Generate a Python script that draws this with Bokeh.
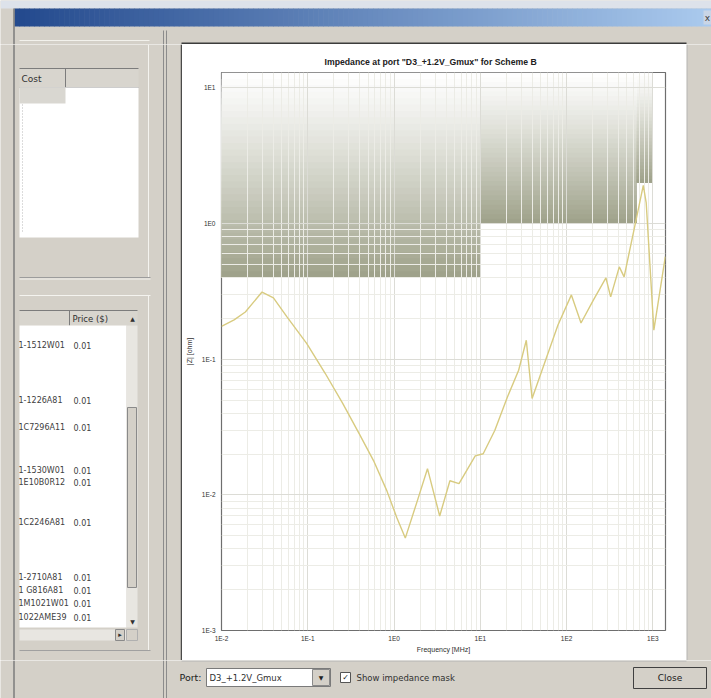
import numpy as np
from bokeh.plotting import figure
from bokeh.models import Range1d, FixedTicker, CustomJSTickFormatter, ColumnDataSource
from bokeh.layouts import row, column
from bokeh.core.properties import value
from bokeh.embed import file_html
from bokeh.resources import INLINE

# ---------------- impedance data ----------------
FREQ_MHZ = [0.01, 0.014, 0.0189, 0.0295, 0.040, 0.0574, 0.097, 0.159, 0.254, 0.394,
            0.578, 0.826, 1.08, 1.35, 1.86, 2.44, 3.38, 4.44, 5.66, 8.73,
            10.8, 14.7, 20.5, 27.8, 34.1, 39.8, 57.0, 79.4, 113.6, 146.8,
            204.8, 285.5, 324.0, 408.0, 464.0, 615.0, 774.0, 836.0, 1026.0, 1393.0]
Z_OHM = [0.175, 0.195, 0.223, 0.313, 0.283, 0.205, 0.131, 0.0788, 0.0472, 0.0283,
         0.0179, 0.0107, 0.00676, 0.0048, 0.00903, 0.0156, 0.00699, 0.0127, 0.0121, 0.0194,
         0.0201, 0.0298, 0.0523, 0.083, 0.138, 0.0514, 0.0983, 0.179, 0.298, 0.185,
         0.274, 0.398, 0.288, 0.48, 0.405, 0.95, 1.91, 1.43, 0.164, 0.57]

# impedance mask segments (target impedance per frequency band)
MASK_F_LO = [0.01, 10.0, 650.0]
MASK_F_HI = [10.0, 650.0, 1000.0]
MASK_Z = [0.4, 1.0, 2.0]

X_TICKS = [1e-2, 1e-1, 1e0, 1e1, 1e2, 1e3]
Y_TICKS = [1e-3, 1e-2, 1e-1, 1e0, 1e1]
X_START, X_END = 0.01, 1.4e3
Y_START, Y_END = 1e-3, 13.0

TITLE = 'Impedance at port "D3_+1.2V_Gmux" for Scheme B'
PORT_NAME = "D3_+1.2V_Gmux"
TABLE_PARTS = ["1-1512W01", "1-1226A81", "1C7296A11", "1-1530W01", "1E10B0R12",
               "1C2246A81", "1-2710A81", "1 G816A81", "1M1021W01", "1022AME39"]
TABLE_PRICE = ["0.01"] * len(TABLE_PARTS)
TABLE_ROW_Y = [345, 400, 427, 470, 482, 522, 577, 590, 603, 617]

GRAY = "#d4d0c8"
UI_FONT = value("DejaVu Sans")
CHART_FONT = "Liberation Sans"


def panel(x0, x1, y0, y1, fill=GRAY):
    """A pixel-addressed drawing surface (y grows downward)."""
    f = figure(width=x1 - x0, height=y1 - y0,
               x_range=Range1d(x0, x1), y_range=Range1d(y1, y0),
               output_backend="svg", toolbar_location=None, min_border=0,
               x_axis_location=None, y_axis_location=None,
               background_fill_color=fill, border_fill_color=fill,
               outline_line_color=None, frame_align=False)
    f.grid.visible = False
    return f


def box(f, x0, x1, y0, y1, fill, line=None, lw=1):
    f.quad(left=[x0], right=[x1], top=[y0], bottom=[y1], fill_color=fill,
           line_color=line, line_width=lw)


def hline(f, x0, x1, y, color, lw=1):
    f.segment(x0=[x0], x1=[x1], y0=[y], y1=[y], line_color=color, line_width=lw)


def vline(f, x, y0, y1, color, lw=1, dash="solid"):
    f.segment(x0=[x], x1=[x], y0=[y0], y1=[y1], line_color=color, line_width=lw,
              line_dash=dash)


def label(f, x, y, s, size="9px", color="#202020", align="left", bold=False):
    f.text(x=[x], y=[y], text=[s], text_font=UI_FONT, text_font_size=size,
           text_color=color, text_align=align, text_baseline="middle",
           text_font_style="bold" if bold else "normal")


def splitters(f, y0, y1, y0_inner=None):
    vline(f, 13.5, y0, y1, "#7c7c7c", 1.5)
    yi = y0 if y0_inner is None else y0_inner
    vline(f, 163, yi, y1, "#8c8c8c", 1)
    vline(f, 166, yi, y1, "#8c8c8c", 1)


# ---------------- window top: caption bar ----------------
top = panel(0, 711, 0, 44)
box(top, 0, 711, 0, 8, "#dde2ea")
n_bar = 140
bx = np.linspace(14, 711, n_bar + 1)
c0 = np.array([0x24, 0x4a, 0x8e])
c1 = np.array([0xaa, 0xca, 0xee])
bar_cols = []
for i in range(n_bar):
    t = i / (n_bar - 1)
    c = (c0 * (1 - t) + c1 * t).astype(int)
    bar_cols.append("#%02x%02x%02x" % tuple(c))
top.quad(left=bx[:-1], right=bx[1:] + 0.6, top=[8] * n_bar, bottom=[26] * n_bar,
         fill_color=bar_cols, line_color=None)
box(top, 703, 711, 10, 24, "#c9d5e6")
label(top, 707, 17, "x", size="9px", color="#404040", align="center")
splitters(top, 8, 44, 30)
hline(top, 19, 149, 40, "#f2f1ec")
hline(top, 181, 686, 43, "#3c3c3c", 2)

# ---------------- left side: part tables ----------------
left = panel(0, 182, 44, 660)
splitters(left, 44, 660)
vline(left, 148, 44, 277, "#f4f3ef")
# upper table
box(left, 19, 138, 68, 87, "#d8d5ce")
hline(left, 19, 138, 68, "#7c7c7c")
hline(left, 19, 138, 87, "#9a9a9a")
vline(left, 65, 68, 87, "#7c7c7c")
label(left, 21, 78, "Cost", size="9px", color="#303030")
box(left, 19, 138, 87, 237, "white")
box(left, 19, 65, 87, 103, "#d9d7d1")
vline(left, 22, 104, 232, "#b8b8b8", 1, "1 2")
hline(left, 19, 150, 277, "#9c9c9c")
hline(left, 19, 150, 278.5, "#f4f3ef")
# lower table
hline(left, 19, 150, 295, "#f4f3ef")
vline(left, 148, 295, 650, "#f4f3ef")
box(left, 19, 137, 310, 325, "#d8d5ce")
hline(left, 19, 137, 310, "#7c7c7c")
vline(left, 69, 310, 325, "#7c7c7c")
label(left, 72, 318, "Price ($)", size="8.5px", color="#303030")
label(left, 132, 318, "▲", size="6px", color="#303030", align="center")
box(left, 19, 126, 325, 627, "white")
box(left, 126, 137, 325, 627, "#e8e6e1")
box(left, 127, 136, 407, 587, GRAY, "#8a8a8a")
label(left, 132, 621, "▼", size="6px", color="#303030", align="center")
box(left, 19, 126, 629, 640, "#e8e6e1")
box(left, 115, 124, 629, 640, GRAY, "#8a8a8a")
label(left, 119.5, 634.5, "▸", size="7px", color="#303030", align="center")
box(left, 126, 137, 629, 640, GRAY, "#b0b0b0")
hline(left, 19, 150, 650, "#a0a0a0")
left.text(x=[18] * len(TABLE_PARTS), y=TABLE_ROW_Y, text=TABLE_PARTS,
          text_font=UI_FONT, text_font_size="8px", text_color="#404040",
          text_baseline="middle")
left.text(x=[73] * len(TABLE_PRICE), y=TABLE_ROW_Y, text=TABLE_PRICE,
          text_font=UI_FONT, text_font_size="8px", text_color="#404040",
          text_baseline="middle")
vline(left, 181, 44, 660, "#4a4a4a", 1.5)

# ---------------- impedance chart ----------------
p = figure(width=504, height=616, x_axis_type="log", y_axis_type="log",
           x_range=Range1d(X_START, X_END), y_range=Range1d(Y_START, Y_END),
           output_backend="svg", toolbar_location=None,
           min_border_left=38, min_border_right=21, min_border_top=28,
           min_border_bottom=30, background_fill_color="white",
           border_fill_color="white", outline_line_color="#6e6e6e",
           outline_line_width=1.2, frame_align=False)
p.title.text = TITLE
p.title.text_font = CHART_FONT
p.title.text_font_size = "8.7px"
p.title.text_font_style = "bold"
p.title.text_color = "#202020"
p.title.align = "left"
p.title.offset = 103
p.title.standoff = 12

x_minor = [k * 10.0 ** d for d in range(-2, 3) for k in range(2, 10)]
y_minor = [k * 10.0 ** d for d in range(-3, 0) for k in range(2, 10)]
p.xaxis.ticker = FixedTicker(ticks=X_TICKS, minor_ticks=x_minor)
p.yaxis.ticker = FixedTicker(ticks=Y_TICKS, minor_ticks=y_minor)
fmt = CustomJSTickFormatter(code='return "1E" + Math.round(Math.log10(tick));')
p.xaxis.formatter = fmt
p.yaxis.formatter = fmt
for ax in (p.xaxis, p.yaxis):
    ax.axis_line_color = None
    ax.major_tick_line_color = None
    ax.minor_tick_line_color = None
    ax.major_tick_out = 0
    ax.major_tick_in = 0
    ax.minor_tick_out = 0
    ax.minor_tick_in = 0
    ax.major_label_text_font = CHART_FONT
    ax.major_label_text_font_size = "6.5px"
    ax.major_label_text_color = "#303030"
    ax.axis_label_text_font = CHART_FONT
    ax.axis_label_text_font_size = "7px"
    ax.axis_label_text_font_style = "normal"
    ax.axis_label_text_color = "#303030"
p.xaxis.axis_label = "Frequency [MHz]"
p.yaxis.axis_label = "|Z| [ohm]"
p.xaxis.major_label_standoff = 4
p.xaxis.axis_label_standoff = 1
p.yaxis.major_label_standoff = 6
p.yaxis.axis_label_standoff = 6

for g in (p.xgrid, p.ygrid):
    g.grid_line_color = "#dcdcd6"
    g.minor_grid_line_color = "#ecece6"
    g.grid_line_width = 1
    g.minor_grid_line_width = 1

# impedance mask: shaded from its limit up to the top of the chart
n_band = 32
mask_dark = np.array([0x9e, 0xa1, 0x89])
white = np.array([0xff, 0xff, 0xff])
ml, mr, mb, mt, mc = [], [], [], [], []
for f_lo, f_hi, z in zip(MASK_F_LO, MASK_F_HI, MASK_Z):
    lz, ltop = np.log10(z), np.log10(Y_END)
    for k in range(n_band):
        s = 1 - k / n_band
        d = min(1.0, 1 - (s - 0.5 / n_band))
        d = d ** 1.15
        c = (white * (1 - d) + mask_dark * d).astype(int)
        ml.append(f_lo)
        mr.append(f_hi)
        mb.append(z)
        mt.append(10 ** (lz + s * (ltop - lz)))
        mc.append("#%02x%02x%02x" % tuple(c))
mask_src = ColumnDataSource(dict(left=ml, right=mr, bottom=mb, top=mt, color=mc))
mask_r = p.quad(left="left", right="right", bottom="bottom", top="top",
                fill_color="color", line_color=None, source=mask_src)
mask_r.level = "image"

p.line(FREQ_MHZ, Z_OHM, line_color="#d8cb80", line_width=1.4)

# ---------------- right strip ----------------
right = panel(686, 711, 44, 660)
vline(right, 686.5, 44, 660, "#b4b4b4")

# ---------------- bottom controls ----------------
bottom = panel(0, 711, 660, 698)
splitters(bottom, 660, 698)
hline(bottom, 181, 686, 660.5, "#b4b4b4")
label(bottom, 179, 677, "Port:", size="9.5px")
box(bottom, 206, 330, 668, 686, "white", "#7a7a7a")
label(bottom, 209, 677, PORT_NAME, size="8.5px", color="#303030")
box(bottom, 312, 329, 669, 685, GRAY, "#8a8a8a")
label(bottom, 320.5, 677, "▼", size="6px", color="#202020", align="center")
box(bottom, 340, 350, 672, 682, "white", "#555555")
label(bottom, 345, 677, "✓", size="8px", color="#202020", align="center")
label(bottom, 356, 677, "Show impedance mask", size="8.5px", color="#303030")
box(bottom, 633, 706, 667, 688, GRAY, "#404040")
label(bottom, 669.5, 677.5, "Close", size="9px", color="#202020", align="center")

layout = column(top, row(left, p, right), bottom)
open("out.html", "w").write(file_html(layout, INLINE))
